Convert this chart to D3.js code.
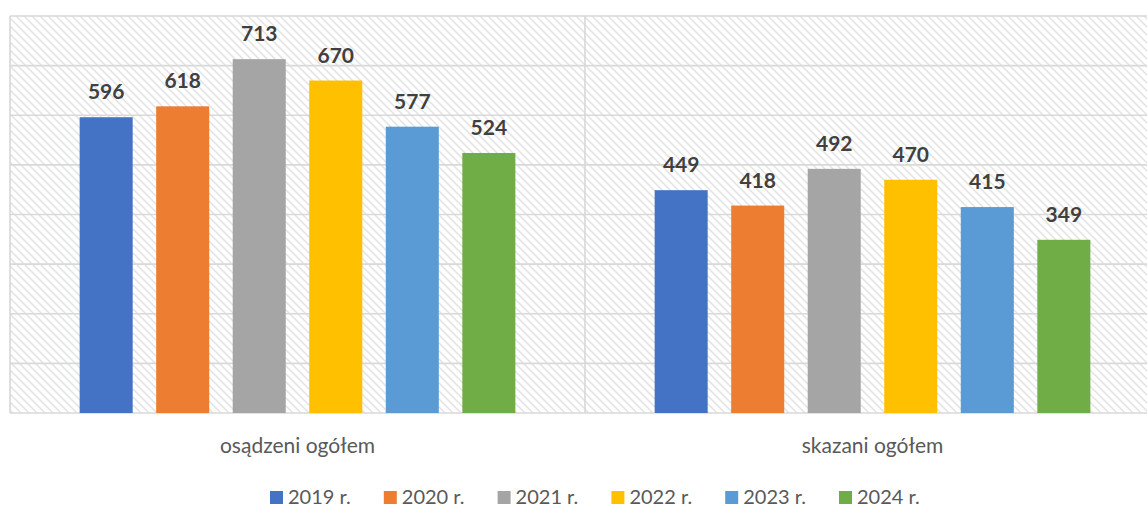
<!DOCTYPE html>
<html>
<head>
<meta charset="utf-8">
<script src="https://cdn.jsdelivr.net/npm/d3@7"></script>
<style>
  body { margin: 0; background: #fff; }
  svg { display: block; }
  text { font-family: Lato, "Open Sans", sans-serif; }
</style>
</head>
<body>
<svg width="1147" height="507"></svg>
<script>
// data
var categories = ["osądzeni ogółem", "skazani ogółem"];
var years = ["2019 r.", "2020 r.", "2021 r.", "2022 r.", "2023 r.", "2024 r."];
var osadzeni = [596, 618, 713, 670, 577, 524];
var skazani = [449, 418, 492, 470, 415, 349];
var yTicks = [0, 100, 200, 300, 400, 500, 600, 700, 800];
var colors = ["#4472C4", "#ED7D31", "#A5A5A5", "#FFC000", "#5B9BD5", "#70AD47"];

var series = [osadzeni, skazani];

var svg = d3.select("svg");
var plotLeft = 10, plotRight = 1160, plotTop = 16, plotBottom = 413;

// diagonal hatch for plot background
var defs = svg.append("defs");
var pat = defs.append("pattern")
    .attr("id", "hatch")
    .attr("patternUnits", "userSpaceOnUse")
    .attr("width", 8).attr("height", 8);
pat.append("rect").attr("width", 8).attr("height", 8).attr("fill", "#fff");
pat.append("path")
    .attr("d", "M-2,-2 L10,10 M-2,6 L2,10 M6,-2 L10,2")
    .attr("stroke", "#e2e2e2")
    .attr("stroke-width", 1.4);

svg.append("rect")
    .attr("x", plotLeft).attr("y", plotTop)
    .attr("width", plotRight - plotLeft).attr("height", plotBottom - plotTop)
    .attr("fill", "url(#hatch)");

var x0 = d3.scaleBand().domain(categories).range([plotLeft, plotRight]);
var x1 = d3.scaleBand().domain(years).range([0, x0.bandwidth()])
    .paddingInner(0.307).paddingOuter(0.91);
var y = d3.scaleLinear().domain([0, 800]).range([plotBottom, plotTop]);

// horizontal gridlines
svg.append("g").selectAll("line")
    .data(yTicks)
    .enter().append("line")
    .attr("x1", plotLeft).attr("x2", plotRight)
    .attr("y1", function(d) { return y(d); })
    .attr("y2", function(d) { return y(d); })
    .attr("stroke", "#d9d9d9")
    .attr("stroke-width", 1.6);

// vertical category separators
var seps = categories.map(function(c) { return x0(c); }).concat([plotRight]);
svg.append("g").selectAll("line")
    .data(seps)
    .enter().append("line")
    .attr("x1", function(d) { return d; }).attr("x2", function(d) { return d; })
    .attr("y1", plotTop).attr("y2", plotBottom)
    .attr("stroke", "#d9d9d9")
    .attr("stroke-width", 1.6);

// bars
var groups = svg.append("g").selectAll("g")
    .data(categories)
    .enter().append("g")
    .attr("transform", function(d) { return "translate(" + x0(d) + ",0)"; });

groups.selectAll("rect")
    .data(function(d, i) { return years.map(function(yr, j) { return {year: yr, value: series[i][j], k: j}; }); })
    .enter().append("rect")
    .attr("x", function(d) { return x1(d.year); })
    .attr("width", x1.bandwidth())
    .attr("y", function(d) { return y(d.value); })
    .attr("height", function(d) { return y(0) - y(d.value); })
    .attr("fill", function(d) { return colors[d.k]; });

groups.selectAll("text")
    .data(function(d, i) { return years.map(function(yr, j) { return {year: yr, value: series[i][j]}; }); })
    .enter().append("text")
    .attr("x", function(d) { return x1(d.year) + x1.bandwidth() / 2; })
    .attr("y", function(d) { return y(d.value) - 18; })
    .attr("text-anchor", "middle")
    .attr("font-size", 21)
    .attr("font-weight", "bold")
    .attr("fill", "#404040")
    .text(function(d) { return d.value; });

// category labels
svg.append("g").selectAll("text")
    .data(categories)
    .enter().append("text")
    .attr("x", function(d) { return x0(d) + 287.5; })
    .attr("y", 453)
    .attr("text-anchor", "middle")
    .attr("font-size", 21)
    .attr("fill", "#595959")
    .text(function(d) { return d; });

// legend
var legend = svg.append("g").selectAll("g")
    .data(years)
    .enter().append("g")
    .attr("transform", function(d, i) { return "translate(" + (270 + i * 113.8) + ",0)"; });
legend.append("rect")
    .attr("x", 0).attr("y", 491)
    .attr("width", 13).attr("height", 13)
    .attr("fill", function(d, i) { return colors[i]; });
legend.append("text")
    .attr("x", 18).attr("y", 504)
    .attr("font-size", 20)
    .attr("fill", "#595959")
    .text(function(d) { return d; });
</script>
</body>
</html>
